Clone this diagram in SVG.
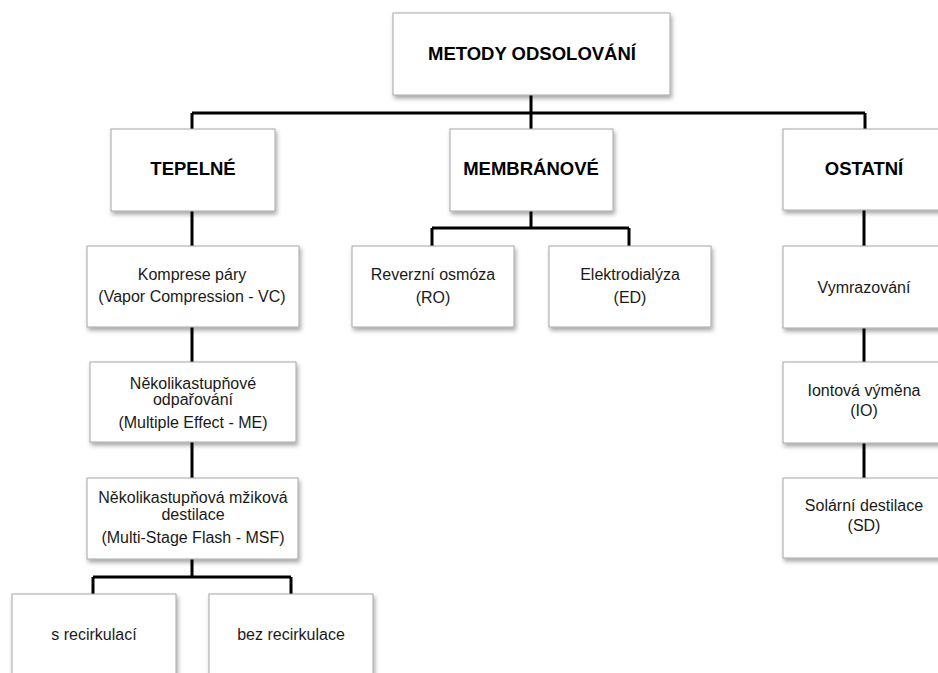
<svg xmlns="http://www.w3.org/2000/svg" width="938" height="673" viewBox="0 0 938 673">
<defs>
<filter id="sh" x="-10%" y="-10%" width="125%" height="130%">
<feDropShadow dx="1.5" dy="3" stdDeviation="2" flood-color="#000" flood-opacity="0.35"/>
</filter>
<style>
.box{fill:#fff;stroke:#a6a6a6;stroke-width:1;filter:url(#sh)}
.t{font-family:"Liberation Sans",Arial,sans-serif;font-size:16px;fill:#1a1a1a;text-anchor:middle}
.b{font-family:"Liberation Sans",Arial,sans-serif;font-size:18.5px;font-weight:bold;fill:#000;text-anchor:middle}
.c{fill:none;stroke:#000;stroke-width:3}
</style>
</defs>
<rect width="938" height="673" fill="#fff"/>
<g id="connectors">
<path class="c" d="M531,95 V129 M192,113 H865 M192,113 V129 M865,113 V129"/>
<path class="c" d="M192,211 V246 M192,327 V362 M192,442 V478 M192,559 V577 M93,577 H291 M93,577 V594 M291,577 V594"/>
<path class="c" d="M531,211 V228 M432,228 H629 M432,228 V246 M629,228 V246"/>
<path class="c" d="M864,210 V246 M864,328 V362 M864,443 V478"/>
</g>
<g id="n-root"><rect class="box" x="393" y="13" width="277" height="82"/><text class="b" x="532" y="60">METODY ODSOLOVÁNÍ</text></g>
<g id="n-tepelne"><rect class="box" x="111" y="129" width="164" height="82"/><text class="b" x="193" y="175">TEPELNÉ</text></g>
<g id="n-membranove"><rect class="box" x="450" y="129" width="163" height="82"/><text class="b" x="531" y="175">MEMBRÁNOVÉ</text></g>
<g id="n-ostatni"><rect class="box" x="783" y="129" width="164" height="81"/><text class="b" x="864" y="175">OSTATNÍ</text></g>
<g id="n-vc"><rect class="box" x="87" y="246" width="212" height="81"/><text class="t" x="192" y="280">Komprese páry</text><text class="t" x="192" y="302">(Vapor Compression - VC)</text></g>
<g id="n-me"><rect class="box" x="90" y="362" width="206" height="80"/><text class="t" x="193" y="389">Několikastupňové</text><text class="t" x="193" y="405">odpařování</text><text class="t" x="193" y="428">(Multiple Effect - ME)</text></g>
<g id="n-msf"><rect class="box" x="87" y="478" width="211" height="81"/><text class="t" x="193" y="503">Několikastupňová mžiková</text><text class="t" x="193" y="520">destilace</text><text class="t" x="193" y="543">(Multi-Stage Flash - MSF)</text></g>
<g id="n-srec"><rect class="box" x="12" y="594" width="164" height="90"/><text class="t" x="94" y="640">s recirkulací</text></g>
<g id="n-bezrec"><rect class="box" x="209" y="594" width="164" height="90"/><text class="t" x="291" y="640">bez recirkulace</text></g>
<g id="n-ro"><rect class="box" x="352" y="246" width="162" height="81"/><text class="t" x="433" y="280">Reverzní osmóza</text><text class="t" x="433" y="303">(RO)</text></g>
<g id="n-ed"><rect class="box" x="549" y="246" width="162" height="81"/><text class="t" x="630" y="280">Elektrodialýza</text><text class="t" x="630" y="303">(ED)</text></g>
<g id="n-vym"><rect class="box" x="783" y="246" width="164" height="82"/><text class="t" x="864" y="293">Vymrazování</text></g>
<g id="n-io"><rect class="box" x="783" y="362" width="164" height="81"/><text class="t" x="864" y="396">Iontová výměna</text><text class="t" x="864" y="416">(IO)</text></g>
<g id="n-sd"><rect class="box" x="783" y="478" width="164" height="80"/><text class="t" x="864" y="511">Solární destilace</text><text class="t" x="864" y="531">(SD)</text></g>
</svg>
